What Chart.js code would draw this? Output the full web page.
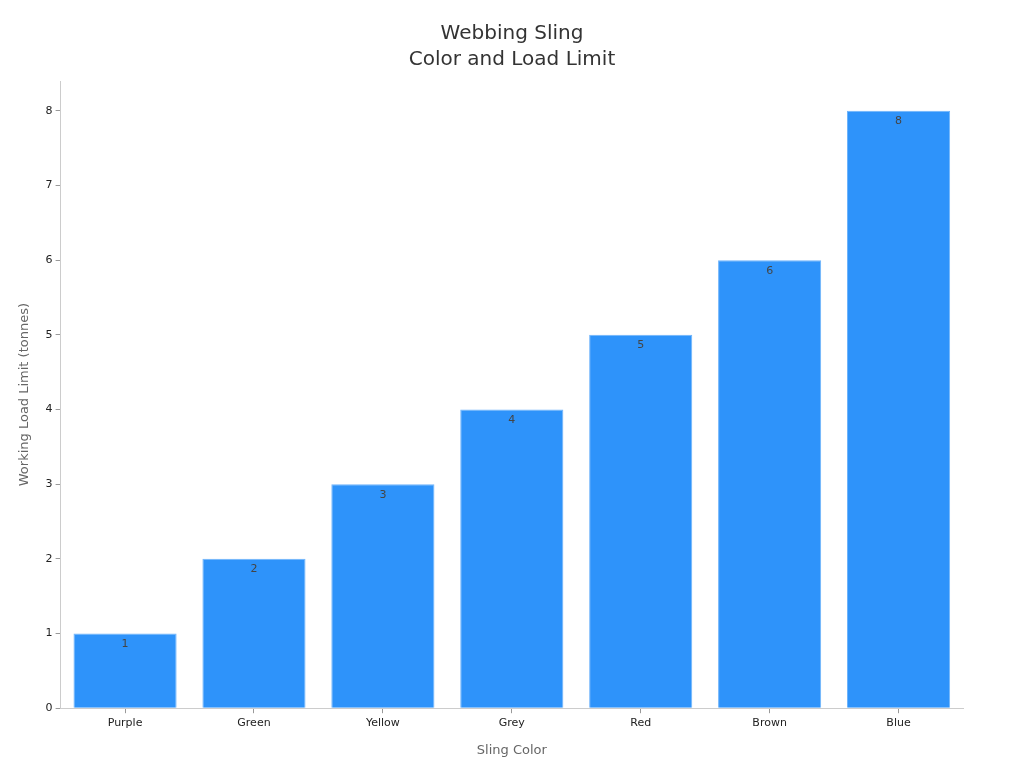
<!DOCTYPE html>
<html>
<head>
<meta charset="utf-8">
<script src="https://cdn.jsdelivr.net/npm/chart.js@4/dist/chart.umd.min.js"></script>
<style>
  html, body { margin: 0; padding: 0; background: #fff; }
  #wrap { width: 1024px; height: 768px; }
</style>
</head>
<body>
<div id="wrap"><canvas id="myChart"></canvas></div>
<script>
const slingColors = ['Purple', 'Green', 'Yellow', 'Grey', 'Red', 'Brown', 'Blue'];
const loadLimits = [1, 2, 3, 4, 5, 6, 8];
const titleLines = ['Webbing Sling', 'Color and Load Limit'];

// draws the value just under the top of each bar
const barValues = {
    id: 'barValues',
    afterDatasetsDraw(chart) {
        const ctx = chart.ctx;
        const meta = chart.getDatasetMeta(0);
        ctx.save();
        ctx.font = '11px "DejaVu Sans"';
        ctx.fillStyle = '#444';
        ctx.textAlign = 'center';
        ctx.textBaseline = 'top';
        meta.data.forEach(function (bar, i) {
            ctx.fillText(loadLimits[i], bar.x, bar.y + 5);
        });
        ctx.restore();
    }
};

// title centred on the whole canvas, not on the padded box
const centerTitle = {
    id: 'centerTitle',
    afterDraw(chart) {
        const ctx = chart.ctx;
        ctx.save();
        ctx.font = '20px "DejaVu Sans"';
        ctx.fillStyle = '#333';
        ctx.textAlign = 'center';
        ctx.textBaseline = 'middle';
        ctx.fillText(titleLines[0], chart.width / 2, 34);
        ctx.fillText(titleLines[1], chart.width / 2, 60);
        ctx.restore();
    }
};

new Chart(document.getElementById('myChart'), {
    type: 'bar',
    data: {
        labels: slingColors,
        datasets: [{
            data: loadLimits,
            backgroundColor: '#2E93FA',
            borderColor: '#6FB4FB',
            borderWidth: 1,
            barPercentage: 0.8,
            categoryPercentage: 1
        }]
    },
    options: {
        responsive: true,
        maintainAspectRatio: false,
        animation: false,
        layout: { padding: { top: 81, right: 61, left: 13, bottom: 6 } },
        plugins: {
            legend: { display: false },
            tooltip: { enabled: false },
            title: { display: false }
        },
        scales: {
            x: {
                grid: { display: true, offset: false, drawOnChartArea: false, drawTicks: true, tickLength: 5, color: '#999' },
                border: { color: '#ccc' },
                ticks: { color: '#222', font: { family: 'DejaVu Sans', size: 11 } },
                title: {
                    display: true,
                    text: 'Sling Color',
                    color: '#666',
                    font: { family: 'DejaVu Sans', size: 13 },
                    padding: { top: 10 }
                }
            },
            y: {
                min: 0,
                max: 8.4,
                grid: { display: true, drawOnChartArea: false, drawTicks: true, tickLength: 5, color: '#999' },
                border: { color: '#ccc' },
                ticks: {
                    stepSize: 1,
                    color: '#222',
                    font: { family: 'DejaVu Sans', size: 11 },
                    callback: function (v) { return Number.isInteger(v) ? v : null; }
                },
                title: {
                    display: true,
                    text: 'Working Load Limit (tonnes)',
                    color: '#666',
                    font: { family: 'DejaVu Sans', size: 13 },
                    padding: { bottom: 10 }
                }
            }
        }
    },
    plugins: [barValues, centerTitle]
});
</script>
</body>
</html>
